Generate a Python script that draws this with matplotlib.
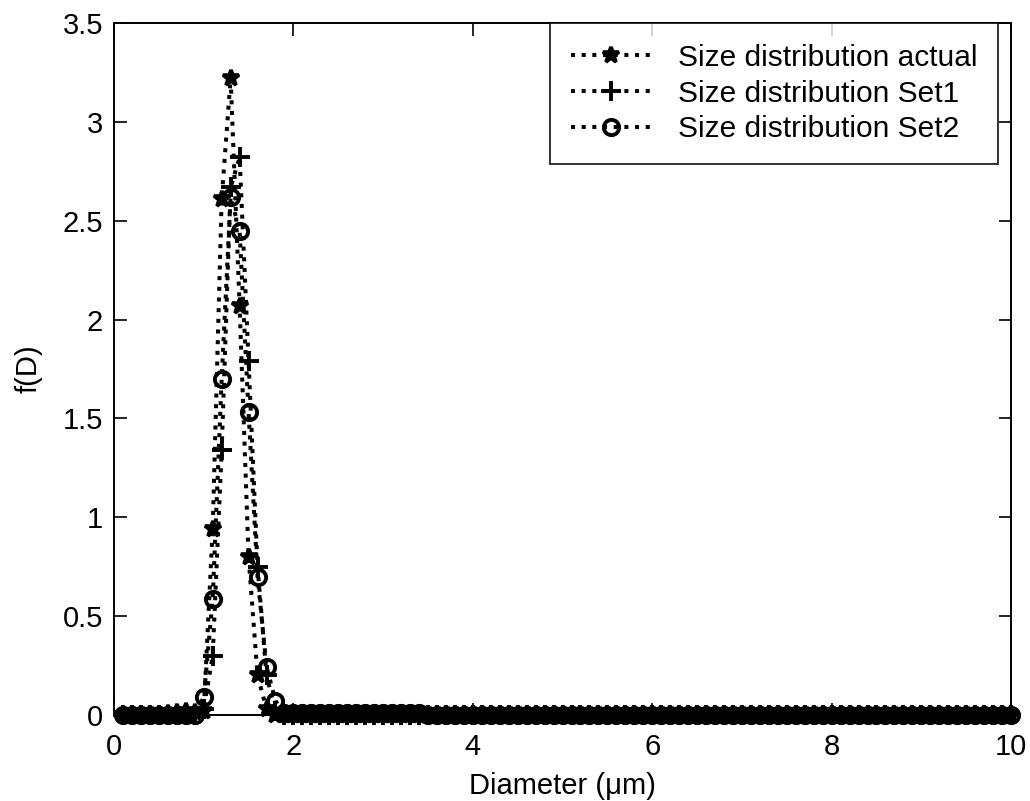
import numpy as np
import matplotlib
matplotlib.use('Agg')
import matplotlib.pyplot as plt
from matplotlib.ticker import FormatStrFormatter

plt.rcParams['font.family'] = ['Liberation Sans', 'DejaVu Sans']

# Diameter grid in micrometres (0.1 ... 10.0)
diameter = np.round(np.arange(1, 101) * 0.1, 1)

# f(D) for 0.1 .. 3.5 um; all three distributions are zero beyond that
actual_head = [0, 0, 0, 0, 0, 0.01, 0.015, 0.02, 0.015, 0.02,
               0.94, 2.61, 3.22, 2.07, 0.80, 0.20, 0.03, 0, 0, 0,
               0, 0, 0, 0, 0, 0, 0, 0, 0, 0, 0, 0, 0, 0, 0]
set1_head = [0, 0, 0, 0, 0, 0, 0, 0, 0, 0.03,
             0.30, 1.34, 2.67, 2.82, 1.79, 0.75, 0.20, 0.02, 0, 0,
             0, 0, 0, 0, 0, 0, 0, 0, 0, 0, 0, 0, 0, 0, 0]
set2_head = [0, 0, 0, 0, 0, 0, 0, 0, 0, 0.09,
             0.585, 1.70, 2.62, 2.45, 1.53, 0.70, 0.245, 0.07, 0.01, 0.012,
             0.012, 0.012, 0.012, 0.012, 0.012, 0.012, 0.012, 0.012, 0.012, 0.012,
             0.012, 0.012, 0.012, 0.012, 0]

tail = [0] * (len(diameter) - len(actual_head))
f_actual = np.array(actual_head + tail)
f_set1 = np.array(set1_head + tail)
f_set2 = np.array(set2_head + tail)

fig = plt.figure(figsize=(10.3, 8.01), dpi=100)
ax = fig.add_axes([0.1107, 0.1074, 0.8709, 0.8639])

# markers sitting on f(D)=0 spill below the axis line, so no clipping
common = dict(color='black', linestyle=':', linewidth=2.9, clip_on=False)
ax.plot(diameter, f_actual, marker='*', markersize=12, markeredgewidth=2.6,
        label='Size distribution actual', **common)
ax.plot(diameter, f_set1, marker='+', markersize=15, markeredgewidth=2.8,
        label='Size distribution Set1', **common)
ax.plot(diameter, f_set2, marker='o', markersize=11, markeredgewidth=2.8,
        markerfacecolor='none', label='Size distribution Set2', **common)

ax.set_xlim(0, 10)
ax.set_ylim(0, 3.5)
ax.set_xticks([0, 2, 4, 6, 8, 10])
ax.set_yticks(np.arange(0, 3.51, 0.5))
ax.yaxis.set_major_formatter(FormatStrFormatter('%g'))
ax.tick_params(direction='in', length=9, width=1.2, top=True, right=True,
               labelsize=21, pad=8)
ax.tick_params(axis='x', pad=13)
for s in ax.spines.values():
    s.set_linewidth(1.4)

ax.set_xlabel('Diameter (\u03bcm)', fontsize=21, labelpad=8)
ax.set_ylabel('f(D)', fontsize=21, labelpad=14)

leg = ax.legend(loc='upper right', bbox_to_anchor=(0.986, 1.0), fontsize=21.5,
                frameon=True, fancybox=False, edgecolor='black',
                handlelength=2.7, handletextpad=0.9, borderpad=0.7,
                labelspacing=0.26, borderaxespad=0)
leg.get_frame().set_linewidth(1.4)

fig.savefig('out.png', dpi=100, facecolor='white')
